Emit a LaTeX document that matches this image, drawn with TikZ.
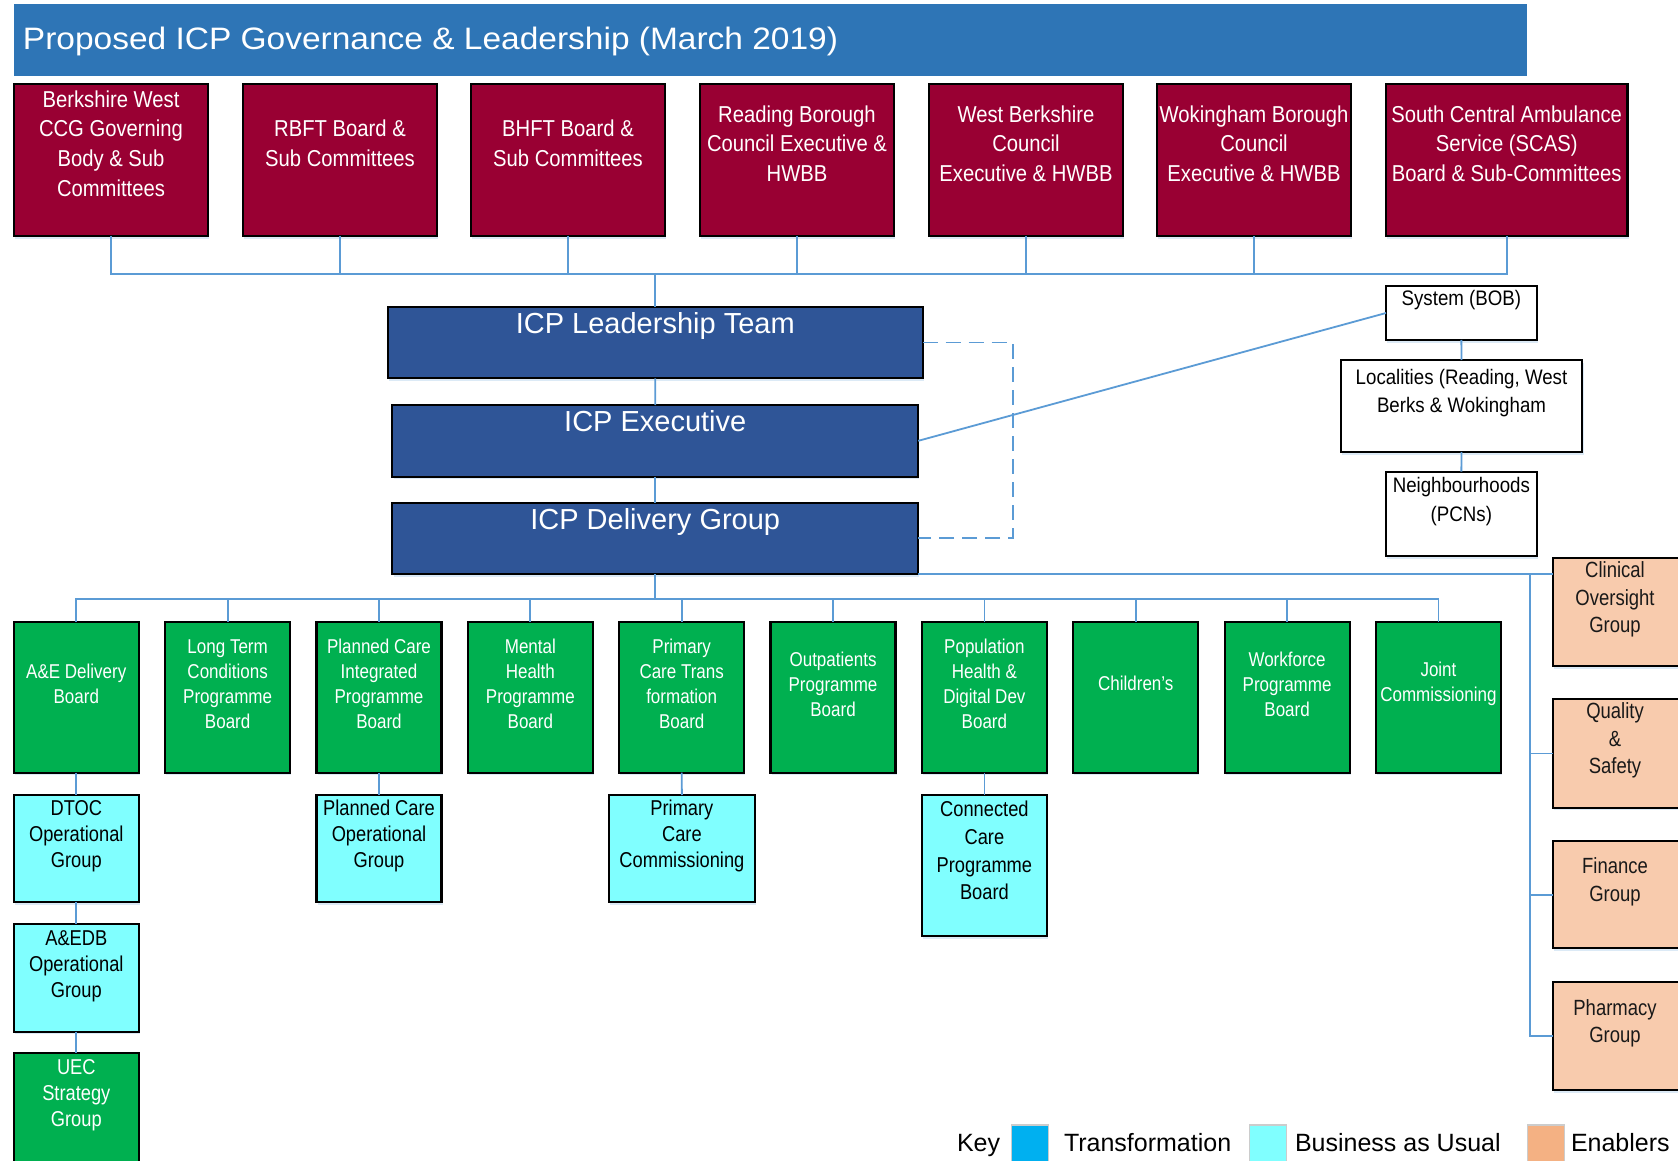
\documentclass[tikz,border=0pt]{standalone}
\usepackage{fontspec}
\setmainfont{Liberation Sans}
\newfontfamily\fTitle[FakeStretch=1.08]{Liberation Sans}
\newfontfamily\fRed[FakeStretch=0.88]{Liberation Sans}
\newfontfamily\fGrn[FakeStretch=0.85]{Liberation Sans}
\newfontfamily\fEnb[FakeStretch=0.84]{Liberation Sans}
\newfontfamily\fLoc[FakeStretch=0.89]{Liberation Sans}
\usetikzlibrary{shadows}
\definecolor{titleblue}{RGB}{46,117,182}
\definecolor{wine}{RGB}{153,0,51}
\definecolor{navy}{RGB}{47,85,151}
\definecolor{grn}{RGB}{0,176,80}
\definecolor{cyanb}{RGB}{128,255,255}
\definecolor{peach}{RGB}{248,203,173}
\definecolor{peachkey}{RGB}{244,177,131}
\definecolor{skyb}{RGB}{0,176,240}
\definecolor{connc}{RGB}{91,155,213}
\begin{document}
\begin{tikzpicture}[x=0.5pt,y=-0.5pt,
  box/.style={rectangle, draw=black, line width=1.1pt, inner sep=0pt, outer sep=0pt,
    drop shadow={shadow xshift=0.6pt, shadow yshift=-1.3pt, fill=connc!60!white, opacity=0.35}},
  redbox/.style={box, fill=wine, minimum width=97pt, minimum height=76pt},
  navybox/.style={box, fill=navy},
  whitebox/.style={box, fill=white},
  grnbox/.style={box, fill=grn, minimum width=62.5pt, minimum height=75.5pt},
  cybox/.style={box, fill=cyanb, minimum width=62.5pt, minimum height=53.65pt},
  enbox/.style={box, fill=peach, minimum width=63.5pt},
  swatch/.style={rectangle, draw=black!20, line width=0.6pt, inner sep=0pt, minimum width=18.3pt, minimum height=25pt},
  txt/.style={inner sep=0pt, outer sep=0pt, align=center},
  titletxt/.style={txt, text=white, font=\fTitle\fontsize{15.5pt}{18pt}\selectfont},
  redtxt/.style={txt, text=white, font=\fRed\fontsize{11.5pt}{14.85pt}\selectfont},
  bluetxt/.style={txt, text=white, font=\fontsize{14.5pt}{17pt}\selectfont},
  loctxt/.style={txt, text=black, font=\fLoc\fontsize{10.5pt}{13.85pt}\selectfont},
  grntxt/.style={txt, text=white, font=\fGrn\fontsize{10pt}{12.5pt}\selectfont},
  cytxt/.style={txt, text=black, font=\fGrn\fontsize{10.75pt}{13pt}\selectfont},
  entxt/.style={txt, text=black!90, font=\fEnb\fontsize{11pt}{13.75pt}\selectfont},
  keytxt/.style={txt, text=black, font=\fontsize{12.5pt}{15pt}\selectfont},
  conn/.style={draw=connc, line width=0.9pt},
  dconn/.style={draw=connc, line width=0.9pt, dash pattern=on 7.5pt off 4pt}
]
\useasboundingbox (0,0) rectangle (1678,1161);
\clip (0,0) rectangle (1678,1161);
\fill[white] (0,0) rectangle (1678,1161);

% title
\node[rectangle, fill=titleblue, inner sep=0pt, minimum width=756.5pt, minimum height=36pt] (title) at (770.5,40) {};
\node[titletxt, anchor=base west] (titlet) at (23,50) {Proposed ICP Governance \& Leadership (March 2019)};

% organisations
\node[redbox] (r1) at (111,160) {};
\node[redtxt] (r1t) at (111,143.5) {Berkshire West\\CCG Governing\\Body \& Sub\\Committees};
\node[redbox] (r2) at (340,160) {};
\node[redtxt] (r2t) at (340,143.5) {RBFT Board \&\\Sub Committees};
\node[redbox] (r3) at (568,160) {};
\node[redtxt] (r3t) at (568,143.5) {BHFT Board \&\\Sub Committees};
\node[redbox] (r4) at (797,160) {};
\node[redtxt] (r4t) at (797,143.5) {Reading Borough\\Council Executive \&\\HWBB};
\node[redbox] (r5) at (1026,160) {};
\node[redtxt] (r5t) at (1026,143.5) {West Berkshire\\Council\\Executive \& HWBB};
\node[redbox] (r6) at (1254,160) {};
\node[redtxt] (r6t) at (1254,143.5) {Wokingham Borough\\Council\\Executive \& HWBB};
\node[redbox, minimum width=120.75pt] (r7) at (1506.7,160) {};
\node[redtxt] (r7t) at (1506.7,143.5) {South Central Ambulance\\Service (SCAS)\\Board \& Sub-Committees};

% ICP core
\node[navybox, minimum width=267.35pt, minimum height=35.8pt] (lt) at (655.3,342.5) {};
\node[bluetxt, anchor=base] (ltt) at (655.3,333) {ICP Leadership Team};
\node[navybox, minimum width=262.95pt, minimum height=35.85pt] (ex) at (655.25,440.85) {};
\node[bluetxt, anchor=base] (ext) at (655.25,431.7) {ICP Executive};
\node[navybox, minimum width=262.95pt, minimum height=35.65pt] (dg) at (655.25,538.35) {};
\node[bluetxt, anchor=base] (dgt) at (655.25,529) {ICP Delivery Group};

% system / localities
\node[whitebox, minimum width=75.35pt, minimum height=27pt] (sys) at (1461.35,313) {};
\node[loctxt, anchor=base] (syst) at (1461.35,306) {System (BOB)};
\node[whitebox, minimum width=120.8pt, minimum height=46pt] (loc) at (1461.5,406) {};
\node[loctxt] (loct) at (1461.5,393.4) {Localities (Reading, West\\Berks \& Wokingham};
\node[whitebox, minimum width=75.35pt, minimum height=42.15pt] (nb) at (1461.35,513.85) {};
\node[loctxt, font=\fLoc\fontsize{10.5pt}{14.35pt}\selectfont] (nbt) at (1461.35,501.9) {Neighbourhoods\\(PCNs)};

% programme boards
\node[grnbox] (g1) at (76.3,697.2) {};
\node[grntxt] (g1t) at (76.3,684) {A\&E Delivery\\Board};
\node[grnbox] (g2) at (227.65,697.2) {};
\node[grntxt] (g2t) at (227.65,684) {Long Term\\Conditions\\Programme\\Board};
\node[grnbox] (g3) at (379,697.2) {};
\node[grntxt] (g3t) at (379,684) {Planned Care\\Integrated\\Programme\\Board};
\node[grnbox] (g4) at (530.35,697.2) {};
\node[grntxt] (g4t) at (530.35,684) {Mental\\Health\\Programme\\Board};
\node[grnbox] (g5) at (681.7,697.2) {};
\node[grntxt] (g5t) at (681.7,684) {Primary\\Care Trans\\formation\\Board};
\node[grnbox] (g6) at (833.05,697.2) {};
\node[grntxt] (g6t) at (833.05,684) {Outpatients\\Programme\\Board};
\node[grnbox] (g7) at (984.4,697.2) {};
\node[grntxt] (g7t) at (984.4,684) {Population\\Health \&\\Digital Dev\\Board};
\node[grnbox] (g8) at (1135.75,697.2) {};
\node[grntxt] (g8t) at (1135.75,683) {Children’s};
\node[grnbox] (g9) at (1287.1,697.2) {};
\node[grntxt] (g9t) at (1287.1,684) {Workforce\\Programme\\Board};
\node[grnbox] (g10) at (1438.45,697.2) {};
\node[grntxt] (g10t) at (1438.45,684) {Joint\\Commissioning};

% operational groups
\node[cybox] (dtoc) at (76.3,848.65) {};
\node[cytxt] (dtoct) at (76.3,836.5) {DTOC\\Operational\\Group};
\node[cybox] (pco) at (379,848.65) {};
\node[cytxt] (pcot) at (379,835.5) {Planned Care\\Operational\\Group};
\node[cybox, minimum width=73.2pt] (pcc) at (681.9,848.65) {};
\node[cytxt] (pcct) at (681.9,836.4) {Primary\\Care\\Commissioning};
\node[cybox, minimum height=70.5pt] (ccp) at (984.4,865.5) {};
\node[cytxt, font=\fGrn\fontsize{10.75pt}{13.9pt}\selectfont] (ccpt) at (984.4,850.5) {Connected\\Care\\Programme\\Board};
\node[cybox, minimum height=53.85pt] (aedb) at (76.3,977.85) {};
\node[cytxt] (aedbt) at (76.3,965.8) {A\&EDB\\Operational\\Group};
\node[grnbox, minimum height=54.35pt] (uec) at (76.3,1107.65) {};
\node[cytxt, text=white] (uect) at (76.3,1094.9) {UEC\\Strategy\\Group};

% enablers
\node[enbox, minimum height=53.85pt] (cl) at (1616.5,612.15) {};
\node[entxt] (clt) at (1615,599.8) {Clinical\\Oversight\\Group};
\node[enbox, minimum height=54.2pt] (qs) at (1616.5,753.5) {};
\node[entxt] (qst) at (1615,740.5) {Quality\\\&\\Safety};
\node[enbox, minimum height=53.65pt] (fin) at (1616.5,894.65) {};
\node[entxt] (fint) at (1615,881.8) {Finance\\Group};
\node[enbox, minimum height=54.15pt] (ph) at (1616.5,1035.85) {};
\node[entxt] (pht) at (1615,1023.2) {Pharmacy\\Group};

% connectors
\coordinate (busA) at (0,274);
\foreach \i in {1,...,7} \draw[conn] (r\i.south) -- (r\i.south |- busA) -| (lt.north);
\draw[conn] (lt.south) -- (ex.north);
\draw[conn] (ex.south) -- (dg.north);
\coordinate (dashx) at (1013,342.5);
\draw[dconn] (lt.east) -- (dashx) |- (dg.east);
\draw[conn] (ex.east) -- (sys.west);
\draw[conn] (sys.south) -- (loc.north);
\draw[conn] (loc.south) -- (nb.north);
\coordinate (busB) at (0,599.3);
\foreach \i in {1,...,10} \draw[conn] (dg.south) -- (dg.south |- busB) -| (g\i.north);
\draw[conn] (g1.south) -- (dtoc.north);
\draw[conn] (dtoc.south) -- (aedb.north);
\draw[conn] (aedb.south) -- (uec.north);
\draw[conn] (g3.south) -- (pco.north);
\draw[conn] (g5.south) -- (pcc.north);
\draw[conn] (g7.south) -- (ccp.north);
\draw[conn] (dg.south east) -- (dg.south east -| cl.west);
\coordinate (busC) at (1530,0);
\draw[conn] (dg.south east -| busC) |- (qs.west);
\draw[conn] (dg.south east -| busC) |- (fin.west);
\draw[conn] (dg.south east -| busC) |- (ph.west);

% key
\node[keytxt, anchor=base west] (key) at (957,1151.7) {Key};
\node[swatch, fill=skyb] (sw1) at (1030,1150) {};
\node[keytxt, anchor=base west] (sw1t) at (1064,1151.7) {Transformation};
\node[swatch, fill=cyanb] (sw2) at (1268,1150) {};
\node[keytxt, anchor=base west] (sw2t) at (1295,1151.7) {Business as Usual};
\node[swatch, fill=peachkey] (sw3) at (1545.9,1150) {};
\node[keytxt, anchor=base west] (sw3t) at (1571,1151.7) {Enablers};
\end{tikzpicture}
\end{document}
